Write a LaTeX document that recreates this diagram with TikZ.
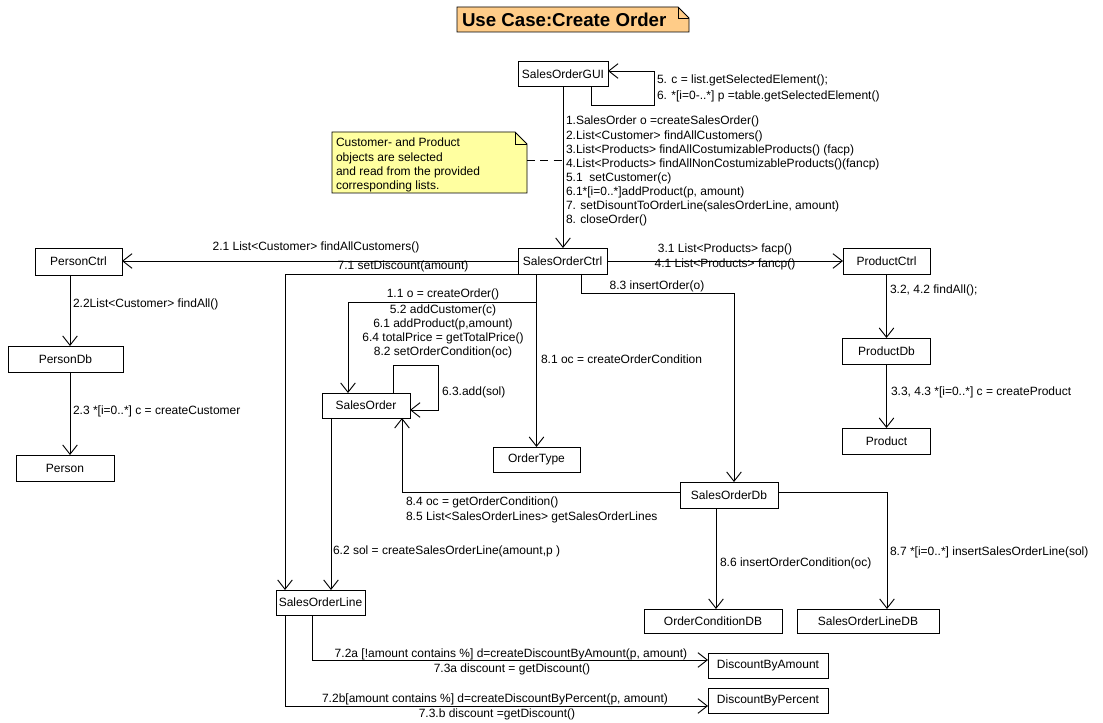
\documentclass[tikz,border=0pt]{standalone}
\usepackage{fontspec}
\setmainfont{Liberation Sans}
\usetikzlibrary{arrows.meta}
\definecolor{titlefill}{RGB}{255,204,136}
\definecolor{notefill}{RGB}{255,255,160}
\begin{document}
\begin{tikzpicture}[x=0.75pt,y=-0.75pt,
  every node/.style={inner sep=0pt, outer sep=0pt},
  font=\fontsize{9}{10.8}\selectfont,
  line width=0.7pt,
  bx/.style={draw, fill=white, inner sep=0pt},
  arr/.style={-{Straight Barb[length=7pt,width=11pt,line width=0.7pt]}},
  lbl/.style={anchor=base west},
  lblc/.style={anchor=base},
]
\fill[white] (0,0) rectangle (1103,723);
\useasboundingbox (0,0) rectangle (1103,723);

% title
\node[minimum width=174pt, minimum height=18.75pt] (title) at (573,19.5) {};
\draw[fill=titlefill] (title.north west) -- ([xshift=-8.25pt]title.north east) -- ([yshift=-8.25pt]title.north east) -- (title.south east) -- (title.south west) -- cycle;
\draw ([xshift=-8.25pt]title.north east) -- ([xshift=-8.25pt,yshift=-8.25pt]title.north east) -- ([yshift=-8.25pt]title.north east);
\node[lbl, font=\fontsize{14}{16}\selectfont\bfseries] (titletext) at (462,26.5) {Use Case:Create Order};

% note
\node[minimum width=146.25pt, minimum height=45.75pt] (note) at (429.5,162.5) {};
\draw[fill=notefill] (note.north west) -- ([xshift=-9pt]note.north east) -- ([yshift=-9pt]note.north east) -- (note.south east) -- (note.south west) -- cycle;
\draw ([xshift=-9pt]note.north east) -- ([xshift=-9pt,yshift=-9pt]note.north east) -- ([yshift=-9pt]note.north east);
\node[lbl] (n1) at (336,147) {Customer- and Product};
\node[lbl] (n2) at (336,161.5) {objects are selected};
\node[lbl] (n3) at (336,176) {and read from the provided};
\node[lbl] (n4) at (336,190) {corresponding lists.};

% boxes
\node[bx, minimum width=67.5pt, minimum height=18.75pt] (gui) at (563,74) {SalesOrderGUI};
\node[bx, minimum width=66.75pt, minimum height=19.5pt] (ctrl) at (562.5,261) {SalesOrderCtrl};
\node[bx, minimum width=65.25pt, minimum height=20.25pt] (personctrl) at (78.5,261.5) {PersonCtrl};
\node[bx, minimum width=86.25pt, minimum height=19.5pt] (persondb) at (65.5,359) {PersonDb};
\node[bx, minimum width=73.5pt, minimum height=19.5pt] (person) at (65,468) {Person};
\node[bx, minimum width=65.25pt, minimum height=19.5pt] (productctrl) at (886.5,261) {ProductCtrl};
\node[bx, minimum width=66pt, minimum height=19.5pt] (productdb) at (886.5,351) {ProductDb};
\node[bx, minimum width=66pt, minimum height=19.5pt] (product) at (886.5,441) {Product};
\node[bx, minimum width=66pt, minimum height=18.75pt] (salesorder) at (366,405.5) {SalesOrder};
\node[bx, minimum width=65.25pt, minimum height=18.75pt] (ordertype) at (536.5,459.5) {OrderType};
\node[bx, minimum width=73.5pt, minimum height=19.5pt] (sodb) at (729,495) {SalesOrderDb};
\node[bx, minimum width=103.5pt, minimum height=18pt] (ocdb) at (713,621) {OrderConditionDB};
\node[bx, minimum width=106.5pt, minimum height=18pt] (soldb) at (868,621) {SalesOrderLineDB};
\node[bx, minimum width=66.75pt, minimum height=18.75pt] (sol) at (320.5,602.5) {SalesOrderLine};
\node[bx, minimum width=90pt, minimum height=18.75pt] (dba) at (768,665.5) {DiscountByAmount};
\node[bx, minimum width=90pt, minimum height=18.75pt] (dbp) at (768,700.5) {DiscountByPercent};

% helper coordinates
\coordinate (g1) at (591,105);
\coordinate (g2) at (654,71);
\coordinate (nd) at (563,160);
\coordinate (c71) at (285,0);
\coordinate (c11) at (348,302);
\coordinate (c83) at (581,293);
\coordinate (c83b) at (734,0);
\coordinate (cp) at (70,0);
\coordinate (s1) at (393,365);
\coordinate (s2) at (438,410);
\coordinate (c62) at (331,0);
\coordinate (c84) at (402,492);
\coordinate (c86) at (716,0);
\coordinate (c87) at (887,492);
\coordinate (c72a) at (312,660);
\coordinate (c72b) at (285,706);

% connectors
\draw[arr] (gui.south -| g1) |- (g2 |- g1) |- (gui.east |- g2);
\draw[arr] (gui.south) -- (gui.south |- ctrl.north);
\draw[dash pattern=on 6pt off 4pt] (note.east |- nd) -- (nd);
\draw[arr] (ctrl.west) -- (ctrl.west -| personctrl.east);
\draw[arr] (ctrl.south west) -| (c71 |- sol.north);
\draw[arr] (ctrl.south -| ordertype.north) -- (ordertype.north);
\draw[arr] (ordertype.north |- c11) -| (c11 |- salesorder.north);
\draw[arr] (ctrl.south -| c83) |- (c83b |- c83) -- (c83b |- sodb.north);
\draw[arr] (ctrl.east) -- (ctrl.east -| productctrl.west);
\draw[arr] (productctrl.south) -- (productdb.north);
\draw[arr] (productdb.south) -- (product.north);
\draw[arr] (personctrl.south -| cp) -- (persondb.north -| cp);
\draw[arr] (persondb.south -| cp) -- (person.north -| cp);
\draw[arr] (salesorder.north -| s1) |- (s2 |- s1) |- (salesorder.east |- s2);
\draw[arr] (salesorder.south -| c62) -- (sol.north -| c62);
\draw[arr] (sodb.west |- c84) -| (salesorder.south -| c84);
\draw[arr] (sodb.south -| c86) -- (ocdb.north -| c86);
\draw[arr] (sodb.east |- c87) -| (soldb.north -| c87);
\draw[arr] (sol.south -| c72a) |- (dba.west |- c72a);
\draw[arr] (sol.south -| c72b) |- (dbp.west |- c72b);

% labels
\node[lbl] (lg5) at (657,84) {5. c = list.getSelectedElement();};
\node[lbl] (lg6) at (657,100) {6. *[i=0-..*] p =table.getSelectedElement()};
\node[lbl] (m1) at (566,125) {1.SalesOrder o =createSalesOrder()};
\node[lbl] (m2) at (566,139.2) {2.List<Customer> findAllCustomers()};
\node[lbl] (m3) at (566,153.3) {3.List<Products> findAllCostumizableProducts() (facp)};
\node[lbl] (m4) at (566,167.5) {4.List<Products> findAllNonCostumizableProducts()(fancp)};
\node[lbl] (m5) at (566,181.6) {5.1\ \ setCustomer(c)};
\node[lbl] (m6) at (566,195.8) {6.1*[i=0..*]addProduct(p, amount)};
\node[lbl] (m7) at (566,209.9) {7. setDisountToOrderLine(salesOrderLine, amount)};
\node[lbl] (m8) at (566,224) {8. closeOrder()};
\node[lblc] (l21) at (316,251) {2.1 List<Customer> findAllCustomers()};
\node[lblc] (l71) at (403,270) {7.1 setDiscount(amount)};
\node[lblc] (l11) at (443,298) {1.1 o = createOrder()};
\node[lblc] (l52) at (443,313.5) {5.2 addCustomer(c)};
\node[lblc] (l61) at (443,327.5) {6.1 addProduct(p,amount)};
\node[lblc] (l64) at (443,342) {6.4 totalPrice = getTotalPrice()};
\node[lblc] (l82) at (443,356) {8.2 setOrderCondition(oc)};
\node[lbl] (l81) at (541,364) {8.1 oc = createOrderCondition};
\node[lblc] (l31) at (725,253) {3.1 List<Products> facp()};
\node[lblc] (l41) at (725,268) {4.1 List<Products> fancp()};
\node[lblc] (l83) at (657,290) {8.3 insertOrder(o)};
\node[lbl] (l32) at (890,294) {3.2, 4.2 findAll();};
\node[lbl] (l33) at (891,396) {3.3, 4.3 *[i=0..*] c = createProduct};
\node[lbl] (l22) at (73,308) {2.2List<Customer> findAll()};
\node[lbl] (l23) at (73,415) {2.3 *[i=0..*] c = createCustomer};
\node[lbl] (l63) at (442,396) {6.3.add(sol)};
\node[lbl] (l84) at (406,505) {8.4 oc = getOrderCondition()};
\node[lbl] (l85) at (406,520) {8.5 List<SalesOrderLines> getSalesOrderLines};
\node[lbl] (l62) at (333,554) {6.2 sol = createSalesOrderLine(amount,p )};
\node[lbl] (l86) at (720,566) {8.6 insertOrderCondition(oc)};
\node[lbl] (l87) at (890,555) {8.7 *[i=0..*] insertSalesOrderLine(sol)};
\node[lblc] (l72a) at (511,657) {7.2a [!amount contains \%] d=createDiscountByAmount(p, amount)};
\node[lblc] (l73a) at (512,672) {7.3a discount = getDiscount()};
\node[lblc] (l72b) at (495,702) {7.2b[amount contains \%] d=createDiscountByPercent(p, amount)};
\node[lblc] (l73b) at (497,717) {7.3.b discount =getDiscount()};
\end{tikzpicture}
\end{document}
